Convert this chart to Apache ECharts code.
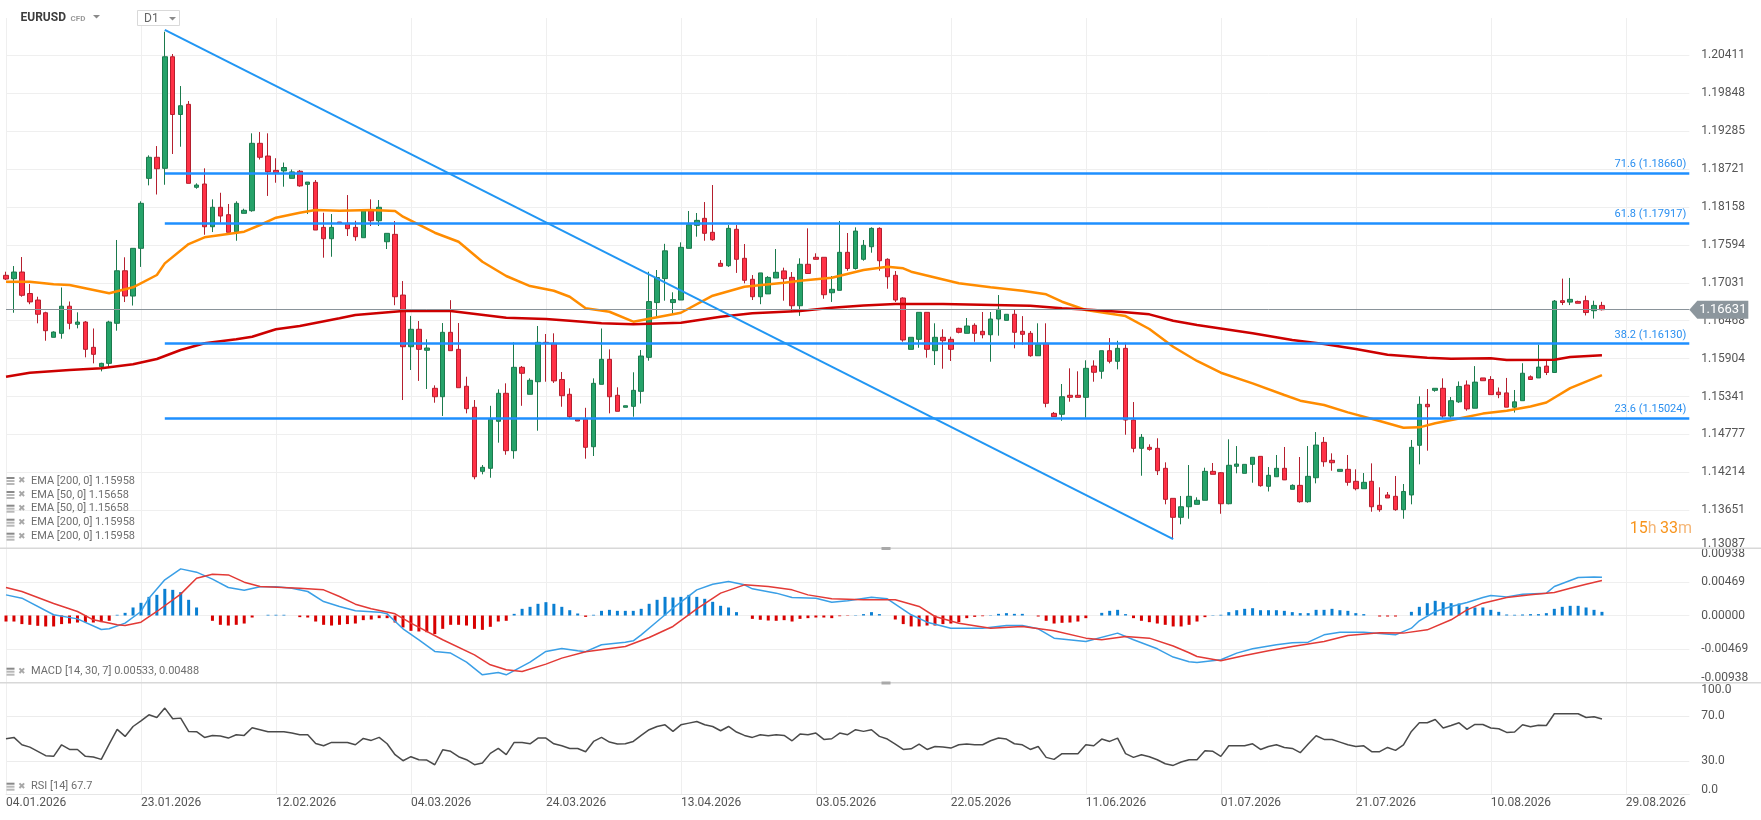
<!DOCTYPE html>
<html><head><meta charset="utf-8">
<script src="https://cdn.jsdelivr.net/npm/echarts@6/dist/echarts.min.js"></script>
<style>html,body{margin:0;padding:0;background:#fff}#c{width:1761px;height:820px}</style>
</head><body><div id="c"></div>
<script>
// ---------- DATA ----------
const dateLabels = ['04.01.2026','23.01.2026','12.02.2026','04.03.2026','24.03.2026','13.04.2026','03.05.2026','22.05.2026','11.06.2026','01.07.2026','21.07.2026','10.08.2026','29.08.2026'];
const priceTickLabels = ['1.13087','1.13651','1.14214','1.14777','1.15341','1.15904','1.16468','1.17031','1.17594','1.18158','1.18721','1.19285','1.19848','1.20411'];
const macdTickLabels = ['-0.00938','-0.00469','0.00000','0.00469','0.00938'];
const rsiTickLabels = {0:'0.0',30:'30.0',70:'70.0',100:'100.0'};

const opens = [
1.17142,1.17092,1.17191,1.16872,1.16775,1.16586,1.16221,1.16280,1.16683,1.16414,
1.16448,1.16072,1.15784,1.15834,1.16429,1.17210,1.16834,1.17543,1.18583,1.18896,
1.18732,1.20390,1.19532,1.19683,1.18450,1.18499,1.17864,1.18153,1.18043,1.17790,
1.18063,1.18102,1.19104,1.18915,1.18702,1.18693,1.18583,1.18689,1.18494,1.18524,
1.17855,1.17686,1.17934,1.17915,1.17855,1.17701,1.18098,1.17953,1.17641,1.17751,
1.16849,1.16081,1.16340,1.16028,1.15463,1.15338,1.16295,1.16042,1.15493,1.15181,
1.14229,1.14274,1.14973,1.15389,1.14536,1.15775,1.15374,1.15561,1.16146,1.16132,
1.15594,1.15374,1.15002,1.15002,1.14595,1.15522,1.15894,1.15359,1.15181,1.15195,
1.15418,1.15923,1.16737,1.17093,1.16737,1.16775,1.17543,1.17885,1.17989,1.17781,
1.17320,1.17285,1.17826,1.17395,1.17083,1.16824,1.16866,1.17102,1.17208,1.17112,
1.16690,1.17306,1.17410,1.17410,1.16883,1.16919,1.17484,1.17243,1.17380,1.17567,
1.17840,1.17380,1.17142,1.16805,1.16042,1.16191,1.16592,1.16022,1.16221,1.16191,
1.16354,1.16280,1.16399,1.16310,1.16259,1.16493,1.16473,1.16563,1.16310,1.16280,
1.15947,1.16132,1.15091,1.15077,1.15359,1.15359,1.15329,1.15794,1.15716,1.16022,
1.15864,1.16057,1.14992,1.14571,1.14586,1.14571,1.14274,1.13828,1.13546,1.13703,
1.13739,1.13799,1.14229,1.14209,1.13748,1.14304,1.14200,1.14333,1.14452,1.14007,
1.14149,1.14274,1.13962,1.14021,1.13778,1.14134,1.14660,1.14393,1.14229,1.14259,
1.14081,1.13971,1.14081,1.13724,1.13878,1.13858,1.13659,1.13878,1.14616,1.15225,
1.15433,1.15463,1.15050,1.15262,1.15512,1.15167,1.15617,1.15594,1.15406,1.15395,
1.15183,1.15279,1.15634,1.15617,1.15793,1.15698,1.16765,1.16744,1.16754,1.16765,
1.16616,1.16695];
const closes = [
1.17087,1.17191,1.16845,1.16747,1.16563,1.16319,1.16299,1.16683,1.16429,1.16448,
1.16042,1.15968,1.15834,1.16448,1.17210,1.16834,1.17543,1.18212,1.18896,1.18726,
1.20390,1.19532,1.19662,1.18509,1.18484,1.17864,1.18153,1.18023,1.17781,1.18212,
1.18108,1.19104,1.18896,1.18679,1.18667,1.18744,1.18679,1.18471,1.18528,1.17815,
1.17686,1.17855,1.17915,1.17835,1.17716,1.18098,1.17953,1.18153,1.17766,1.16824,
1.16081,1.16340,1.16042,1.16062,1.15338,1.16295,1.16022,1.15472,1.15160,1.14149,
1.14289,1.15002,1.15389,1.14536,1.15775,1.15686,1.15582,1.16146,1.16132,1.15573,
1.15353,1.15041,1.14977,1.14586,1.15537,1.15894,1.15338,1.15121,1.15204,1.15433,
1.15943,1.16752,1.17108,1.17506,1.16781,1.17558,1.17894,1.17959,1.17766,1.17671,
1.17276,1.17840,1.17380,1.17068,1.16824,1.17178,1.17111,1.17187,1.17092,1.16690,
1.17306,1.17169,1.17380,1.16854,1.16934,1.17484,1.17243,1.17800,1.17588,1.17840,
1.17359,1.17121,1.16775,1.16181,1.16221,1.16592,1.16042,1.16221,1.16170,1.16042,
1.16295,1.16389,1.16280,1.16259,1.16493,1.16637,1.16563,1.16295,1.16265,1.15947,
1.16112,1.15240,1.15041,1.15338,1.15329,1.15329,1.15760,1.15701,1.16022,1.15864,
1.16057,1.14992,1.14571,1.14735,1.14556,1.14238,1.13813,1.13546,1.13703,1.13858,
1.13799,1.14229,1.14185,1.13748,1.14319,1.14338,1.14333,1.14438,1.14016,1.14170,
1.14274,1.14102,1.14021,1.13778,1.14155,1.14620,1.14372,1.14357,1.14259,1.14066,
1.13971,1.14066,1.13703,1.13659,1.13833,1.13659,1.13930,1.14586,1.15225,1.15189,
1.15463,1.15051,1.15279,1.15491,1.15157,1.15555,1.15576,1.15369,1.15369,1.15183,
1.15262,1.15687,1.15594,1.15778,1.15698,1.16759,1.16738,1.16785,1.16727,1.16589,
1.16695,1.16631];
const lows = [
1.17072,1.16586,1.16824,1.16713,1.16429,1.16170,1.16221,1.16200,1.16340,1.16354,
1.15923,1.15834,1.15715,1.15784,1.16319,1.16745,1.16693,1.17267,1.18479,1.18343,
1.18488,1.18945,1.19053,1.18509,1.18429,1.17745,1.17785,1.17924,1.17781,1.17656,
1.18063,1.18087,1.18863,1.18322,1.18518,1.18459,1.18583,1.18459,1.18053,1.17815,
1.17404,1.17418,1.17915,1.17726,1.17656,1.17701,1.17875,1.17875,1.17533,1.16698,
1.15289,1.15735,1.15573,1.15453,1.15249,1.15051,1.16022,1.15472,1.15091,1.14111,
1.14185,1.14134,1.14655,1.14476,1.14417,1.15203,1.15374,1.14833,1.15561,1.15543,
1.15189,1.15017,1.14977,1.14417,1.14457,1.15522,1.15091,1.15121,1.15181,1.15041,
1.15237,1.15873,1.16524,1.16765,1.16567,1.16775,1.17543,1.17716,1.17656,1.17656,
1.17276,1.17267,1.17178,1.17023,1.16775,1.16713,1.16866,1.17102,1.16765,1.16596,
1.16539,1.17169,1.17380,1.16794,1.16747,1.16919,1.17210,1.17228,1.17359,1.17478,
1.17210,1.16943,1.16746,1.16155,1.16042,1.16066,1.15918,1.15809,1.15754,1.15869,
1.16280,1.16280,1.16155,1.16206,1.15858,1.16245,1.16473,1.16057,1.16112,1.15932,
1.15947,1.15181,1.15041,1.14981,1.15264,1.15329,1.15026,1.15561,1.15605,1.15834,
1.15745,1.14773,1.14512,1.14164,1.14536,1.14174,1.13739,1.13223,1.13442,1.13525,
1.13739,1.13799,1.14185,1.13599,1.13739,1.14200,1.14200,1.14060,1.14001,1.13930,
1.14149,1.14100,1.13962,1.13763,1.13763,1.14051,1.14298,1.14238,1.14229,1.14016,
1.13947,1.13971,1.13629,1.13629,1.13833,1.13644,1.13525,1.13739,1.14333,1.14536,
1.15412,1.15017,1.15013,1.15246,1.15130,1.15167,1.15576,1.15369,1.15316,1.15183,
1.15103,1.15279,1.15594,1.15617,1.15660,1.15698,1.16700,1.16700,1.16727,1.16546,
1.16499,1.16620];
const highs = [
1.17196,1.17280,1.17414,1.17013,1.16824,1.16601,1.16310,1.16961,1.16753,1.16592,
1.16463,1.16352,1.15843,1.16467,1.17667,1.17410,1.17543,1.18242,1.18925,1.19063,
1.20762,1.20431,1.19955,1.19732,1.18509,1.18732,1.18271,1.18369,1.18202,1.18242,
1.18132,1.19252,1.19271,1.19252,1.18882,1.18818,1.18714,1.18707,1.18528,1.18558,
1.18072,1.18053,1.17934,1.18335,1.17953,1.18098,1.18271,1.18261,1.17766,1.17949,
1.17057,1.16539,1.16463,1.16192,1.15507,1.16433,1.16773,1.16433,1.15635,1.15289,
1.14323,1.15203,1.15448,1.15537,1.16146,1.15794,1.15611,1.16389,1.16270,1.16280,
1.15705,1.15463,1.15002,1.15173,1.15611,1.16352,1.16042,1.15478,1.15204,1.15701,
1.16032,1.17196,1.17221,1.17610,1.16890,1.17632,1.18098,1.18068,1.18231,1.18484,
1.17369,1.17889,1.17889,1.17607,1.17146,1.17178,1.17130,1.17533,1.17256,1.17191,
1.17395,1.17840,1.17469,1.17410,1.17132,1.17949,1.17771,1.17855,1.17667,1.17855,
1.17855,1.17395,1.17206,1.16816,1.16221,1.16592,1.16592,1.16429,1.16340,1.16230,
1.16363,1.16508,1.16429,1.16597,1.16597,1.16849,1.16563,1.16641,1.16536,1.16314,
1.16429,1.16429,1.15111,1.15527,1.15760,1.15716,1.15879,1.15879,1.16022,1.16210,
1.16170,1.16141,1.15259,1.14784,1.14631,1.14720,1.14363,1.13828,1.13863,1.14323,
1.13843,1.14283,1.14353,1.14219,1.14705,1.14605,1.14333,1.14438,1.14452,1.14293,
1.14472,1.14591,1.14036,1.14442,1.14605,1.14813,1.14739,1.14497,1.14259,1.14472,
1.14259,1.14204,1.14348,1.13992,1.13922,1.14160,1.14041,1.14695,1.15344,1.15452,
1.15463,1.15611,1.15334,1.15565,1.15580,1.15793,1.15617,1.15644,1.15475,1.15617,
1.15438,1.15836,1.15655,1.16112,1.15873,1.16775,1.17093,1.17103,1.16765,1.16839,
1.16765,1.16748];

// EMA lines, read at sample candles: [candle index, value]
const ema50 = [[0,1.17047],[3,1.17047],[6,1.17008],[8,1.16998],[13,1.16875],[16,1.16964],[19,1.17147],[20,1.17320],[23,1.17607],[25,1.17707],[30,1.17790],[32,1.17890],[34,1.17998],[37,1.18072],[39,1.18112],[42,1.18102],[46,1.18112],[49,1.18098],[50,1.18013],[54,1.17775],[57,1.17641],[60,1.17344],[63,1.17132],[66,1.16983],[69,1.16913],[71,1.16824],[73,1.16652],[76,1.16601],[79,1.16453],[83,1.16542],[85,1.16586],[89,1.16839],[93,1.16973],[98,1.17032],[100,1.17062],[104,1.17107],[108,1.17220],[111,1.17270],[113,1.17246],[114,1.17196],[120,1.17023],[124,1.16964],[128,1.16913],[131,1.16860],[133,1.16750],[136,1.16627],[141,1.16537],[144,1.16344],[147,1.16081],[150,1.15869],[153,1.15695],[157,1.15537],[161,1.15363],[163,1.15279],[166,1.15215],[169,1.15106],[173,1.14977],[176,1.14877],[178,1.14883],[180,1.14943],[183,1.15013],[186,1.15087],[189,1.15130],[192,1.15194],[194,1.15252],[197,1.15465],[201,1.15658]];
const ema200 = [[0,1.15635],[3,1.15695],[8,1.15735],[12,1.15760],[16,1.15820],[19,1.15898],[22,1.16032],[25,1.16132],[29,1.16191],[31,1.16230],[34,1.16340],[37,1.16390],[42,1.16503],[44,1.16552],[50,1.16612],[56,1.16612],[63,1.16512],[68,1.16493],[71,1.16468],[75,1.16429],[79,1.16414],[85,1.16438],[90,1.16527],[94,1.16577],[100,1.16612],[104,1.16660],[108,1.16695],[112,1.16716],[118,1.16716],[129,1.16690],[133,1.16652],[137,1.16627],[141,1.16592],[144,1.16562],[147,1.16468],[150,1.16404],[157,1.16280],[162,1.16181],[166,1.16121],[170,1.16047],[174,1.15962],[179,1.15918],[182,1.15903],[187,1.15910],[189,1.15883],[195,1.15889],[197,1.15927],[201,1.15955]];

// Fibonacci retracement and trendline
const fibLevels = [71.6, 61.8, 38.2, 23.6];
const fibValues = [1.18660, 1.17917, 1.16130, 1.15024];
const fibStartIndex = 20;
const trendStart = [20, 1.20790];
const trendEnd = [147, 1.13223];
const lastPrice = 1.16631;

// MACD [14,30,7]
const macdHist = [
-0.00084,-0.00084,-0.0012,-0.0013,-0.00144,-0.00153,-0.00153,-0.0012,-0.00112,-0.00098,
-0.00093,-0.00098,-0.00093,-0.00074,0.0001,0.00037,0.00112,0.00177,0.0026,0.00288,
0.00372,0.00358,0.00326,0.00219,0.00112,0,-0.00074,-0.0013,-0.0014,-0.0013,
-0.00112,-0.00028,0,0.0001,0.0001,0.0001,0,-0.00023,-0.00028,-0.00084,
-0.0013,-0.0014,-0.0013,-0.0012,-0.00112,-0.00065,-0.00056,-0.00037,-0.00037,-0.00098,
-0.00167,-0.00214,-0.00223,-0.00233,-0.0026,-0.00186,-0.0013,-0.0013,-0.0014,-0.00186,
-0.002,-0.00158,-0.00084,-0.00074,0.00023,0.00093,0.00121,0.00163,0.00186,0.00163,
0.00121,0.00074,0.00028,-0.00019,0.0001,0.00065,0.00079,0.00065,0.00065,0.00065,
0.00093,0.00163,0.00219,0.0026,0.00251,0.0026,0.00288,0.0026,0.00233,0.00191,
0.00135,0.00112,0.00047,0,-0.00047,-0.0006,-0.0007,-0.00074,-0.00065,-0.00084,
-0.00047,-0.00037,-0.00028,-0.00028,-0.00037,-0.0001,-0.00005,0.00005,0.00019,0.00047,
0.00019,0,-0.00056,-0.0012,-0.00153,-0.00153,-0.0014,-0.0014,-0.0012,-0.00112,
-0.00093,-0.00037,-0.00019,-0.0001,0.00005,0.00023,0.00033,0.00023,0.00023,0,
-0.00014,-0.00074,-0.00112,-0.00102,-0.00098,-0.00084,-0.00037,0,0.00037,0.00065,
0.00079,0.00019,-0.00037,-0.00074,-0.00093,-0.00112,-0.0013,-0.00153,-0.00153,-0.0013,
-0.00084,-0.00023,0.00005,0.0001,0.00047,0.00074,0.00093,0.00102,0.00074,0.00074,
0.00074,0.00065,0.00047,0.00033,0.00033,0.00079,0.00079,0.00093,0.00074,0.00065,
0.00033,0.00019,0,-0.00014,-0.00014,-0.00014,0,0.00051,0.00121,0.00172,
0.00205,0.00186,0.00172,0.00167,0.00121,0.00112,0.00112,0.00079,0.00051,0.00014,
0.0001,0.00014,0.00019,0.00019,0.00033,0.00093,0.00121,0.00135,0.00135,0.00112,
0.00079,0.00051];
const macdLine = [[0,0.00288],[2,0.00242],[6,0.0001],[9,-0.00047],[12,-0.00195],[13,-0.00186],[15,-0.00107],[17,0.00056],[18,0.00242],[20,0.00498],[22,0.00651],[24,0.00605],[26,0.00507],[28,0.00391],[30,0.00353],[32,0.004],[34,0.004],[36,0.00381],[38,0.00335],[40,0.00195],[42,0.00126],[44,0.00065],[47,0.00047],[48,0.00023],[50,-0.00186],[52,-0.00339],[54,-0.00502],[56,-0.00525],[58,-0.00651],[60,-0.00828],[62,-0.00795],[63,-0.00828],[66,-0.00651],[68,-0.00502],[70,-0.0046],[72,-0.00493],[73,-0.00505],[75,-0.00409],[78,-0.00372],[79,-0.00353],[80,-0.0027],[82,-0.00084],[84,0.00102],[87,0.00358],[89,0.00437],[91,0.00474],[93,0.00428],[94,0.00372],[97,0.00312],[99,0.00251],[102,0.00242],[104,0.00186],[106,0.00205],[109,0.00256],[111,0.00233],[114,0.0001],[116,-0.00093],[119,-0.00177],[123,-0.00177],[126,-0.0014],[128,-0.0014],[130,-0.00186],[132,-0.00316],[136,-0.00363],[140,-0.00246],[142,-0.00339],[145,-0.00465],[147,-0.0058],[149,-0.00645],[150,-0.00656],[153,-0.00618],[155,-0.00525],[157,-0.00465],[160,-0.00409],[162,-0.00381],[164,-0.00372],[166,-0.0027],[168,-0.00233],[171,-0.00233],[173,-0.00251],[175,-0.0027],[177,-0.00177],[178,-0.00074],[180,0.00056],[182,0.00126],[184,0.00181],[186,0.00251],[187,0.00279],[189,0.0026],[191,0.00298],[194,0.00312],[195,0.00405],[198,0.0053],[200,0.00539],[201,0.00533]];
const signalLine = [[0,0.00391],[2,0.00335],[6,0.00167],[9,0.00056],[11,-0.0006],[14,-0.0013],[15,-0.0014],[17,-0.00093],[19,0.00056],[22,0.00298],[24,0.00521],[26,0.00577],[28,0.00567],[30,0.00465],[32,0.00405],[37,0.00381],[40,0.00358],[42,0.00265],[44,0.00158],[46,0.00093],[49,0.00023],[51,-0.00107],[55,-0.00339],[59,-0.00549],[61,-0.00688],[63,-0.00758],[65,-0.00781],[68,-0.00679],[70,-0.00595],[73,-0.00505],[78,-0.00432],[81,-0.00307],[84,-0.00153],[87,0.00093],[90,0.00312],[93,0.00428],[96,0.00405],[99,0.00358],[101,0.00288],[104,0.00233],[108,0.00219],[112,0.00219],[115,0.00126],[117,-0.00014],[120,-0.00107],[124,-0.00177],[128,-0.00153],[132,-0.00214],[136,-0.00316],[138,-0.00339],[141,-0.00293],[144,-0.00316],[147,-0.00425],[149,-0.0052],[150,-0.00572],[153,-0.00632],[156,-0.00558],[159,-0.00493],[162,-0.00432],[166,-0.00363],[169,-0.00279],[173,-0.00242],[176,-0.00246],[179,-0.002],[182,-0.0006],[184,0.00079],[186,0.00172],[189,0.00251],[192,0.00288],[195,0.00321],[197,0.00381],[199,0.00437],[201,0.00488]];

// RSI [14]
const rsiValues = [
50,51.2,44.6,42.5,38.7,34.8,34.2,44.6,40.4,40.4,
34.2,33.6,31.5,45.2,58.4,52.1,61,66.1,71.5,69.1,
77.5,67.9,68.5,56.6,56.3,51.2,53,52.4,50.6,53.6,
53,59.9,58.1,56.3,56.3,56.3,55.1,53.6,53.6,45.8,
43.7,46.7,46.7,46.7,44.6,50.3,48.5,51.2,45.5,35.7,
30.3,33.9,31.2,30.9,26.7,40.1,38.7,33.9,31.2,26.7,
28.2,36.9,41.3,35.7,46.7,46.7,45.5,50.6,50.6,45.5,
43.7,41.3,41.3,38.4,47.6,51.2,47,45.2,45.5,47.6,
53,58.1,61,62.5,56.6,62.5,64,65.5,62.5,61,
57.2,61,56,53,51.2,53.6,52.7,53.6,53,48.2,
54.2,53.6,55.1,49.4,50,55.1,53.6,58.1,56.6,58.1,
52.1,49.7,45.2,40.4,41,45.2,40.4,43.1,42.5,41.6,
44.6,45.2,44.6,44.6,48.2,50.6,49.7,45.5,44.6,40.4,
43.1,33.3,31.5,36.6,36.6,36.6,44.6,43.7,49.7,47.6,
50.6,36.6,33.3,35.7,33.9,31.2,27.6,26.1,29.1,31.2,
31.2,39.3,38.7,34.2,43.7,43.7,43.7,45.5,40.4,43.1,
44.6,42.2,41.3,37.5,45.2,52.7,49.4,49.4,47,44.6,
43.1,43.7,38.4,38.4,42.2,39.6,44.6,56.6,64.3,64.3,
67.3,59.6,61.9,64.3,58.4,62.8,62.8,59.6,59,55.7,
56,62.5,60.7,62.2,61.9,72.4,72.4,72.4,72.4,69.1,
69.7,67.7];

const legendTexts = ['EMA [200, 0] 1.15958','EMA [50, 0] 1.15658','EMA [50, 0] 1.15658','EMA [200, 0] 1.15958','EMA [200, 0] 1.15958'];
const macdLegend = 'MACD [14, 30, 7] 0.00533, 0.00488';
const rsiLegend = 'RSI [14] 67.7';

// ---------- CHART ----------
const N_CAT = 213;
const categories = Array.from({length: N_CAT}, (_, i) => String(i));
const candleData = opens.map((o, i) => [o, closes[i], lows[i], highs[i]]);
const FONT = 'Roboto, "Noto Sans", sans-serif';
const AXIS_TXT = '#555';
const GRID_LINE = '#efefef';

const priceMin = 1.13087, priceInterval = 0.0056338, priceMax = 1.20966;
const macdMin = -0.00938, macdInterval = 0.00469;

const gridCommon = {left: 6, right: 71.7, outerBoundsMode: 'none', containLabel: false};
const grids = [
  Object.assign({top: 18, height: 530.2}, gridCommon),
  Object.assign({top: 548.3, height: 134.4}, gridCommon),
  Object.assign({top: 683, height: 111.5}, gridCommon)
];

function xAxisFor(gi, showLabels) {
  return {
    type: 'category', gridIndex: gi, data: categories, boundaryGap: false,
    axisLine: {show: gi === 2, lineStyle: {color: '#e6e6e6'}},
    axisTick: {show: false},
    axisLabel: {
      show: showLabels, interval: 16, align: 'left', margin: 2, hideOverlap: false,
      color: AXIS_TXT, fontSize: 12, fontFamily: FONT,
      formatter: (v, idx) => (idx % 17 === 0 ? (dateLabels[idx / 17] || '') : '')
    },
    splitLine: {show: true, interval: 16, lineStyle: {color: GRID_LINE, width: 1}}
  };
}

const yLabelBase = {color: AXIS_TXT, fontSize: 12, fontFamily: FONT, margin: 12};

const option = {
  animation: false,
  backgroundColor: '#fff',
  grid: grids,
  xAxis: [xAxisFor(0, false), xAxisFor(1, false), xAxisFor(2, true)],
  yAxis: [
    {
      type: 'value', gridIndex: 0, position: 'right', min: priceMin, max: priceMax, interval: priceInterval,
      axisLine: {show: false}, axisTick: {show: false},
      splitLine: {show: true, showMaxLine: false, lineStyle: {color: GRID_LINE}},
      axisLabel: Object.assign({}, yLabelBase, {
        formatter: v => {
          const k = Math.round((v - priceMin) / priceInterval);
          if (Math.abs(v - (priceMin + k * priceInterval)) > priceInterval * 0.1) return '';
          const t = priceTickLabels[k];
          if (!t) return '';
          return k === 0 ? '{lo|' + t + '}' : t;
        },
        rich: {lo: {color: AXIS_TXT, fontSize: 12, fontFamily: FONT, padding: [0, 0, 9, 0]}}
      })
    },
    {
      type: 'value', gridIndex: 1, position: 'right', min: macdMin, max: -macdMin, interval: macdInterval,
      axisLine: {show: false}, axisTick: {show: false},
      splitLine: {show: true, lineStyle: {color: GRID_LINE}},
      axisLabel: Object.assign({}, yLabelBase, {
        formatter: v => {
          const k = Math.round((v - macdMin) / macdInterval);
          const t = macdTickLabels[k];
          if (!t) return '';
          if (k === 4) return '{hi|' + t + '}';
          if (k === 0) return '{lo|' + t + '}';
          return t;
        },
        rich: {
          hi: {color: AXIS_TXT, fontSize: 12, fontFamily: FONT, padding: [12, 0, 0, 0]},
          lo: {color: AXIS_TXT, fontSize: 12, fontFamily: FONT, padding: [0, 0, 10, 0]}
        }
      })
    },
    {
      type: 'value', gridIndex: 2, position: 'right', min: 0, max: 100, interval: 10,
      axisLine: {show: false}, axisTick: {show: false},
      splitLine: {show: true, lineStyle: {color: ['#ececec','rgba(0,0,0,0)','rgba(0,0,0,0)','#ececec','rgba(0,0,0,0)','rgba(0,0,0,0)','rgba(0,0,0,0)','#ececec','rgba(0,0,0,0)','rgba(0,0,0,0)','rgba(0,0,0,0)']}},
      axisLabel: Object.assign({}, yLabelBase, {
        formatter: v => {
          const t = rsiTickLabels[Math.round(v)];
          if (!t) return '';
          if (Math.round(v) === 100) return '{hi|' + t + '}';
          if (Math.round(v) === 0) return '{lo|' + t + '}';
          return t;
        },
        rich: {
          hi: {color: AXIS_TXT, fontSize: 12, fontFamily: FONT, padding: [14, 0, 0, 0]},
          lo: {color: AXIS_TXT, fontSize: 12, fontFamily: FONT, padding: [0, 0, 9, 0]}
        }
      })
    }
  ],
  series: [
    {
      type: 'candlestick', name: 'EURUSD', xAxisIndex: 0, yAxisIndex: 0, data: candleData,
      barWidth: 5, clip: false, z: 3,
      itemStyle: {color: '#26a36a', color0: '#ff3146', borderColor: '#1b7a4d', borderColor0: '#b51f2e', borderWidth: 1},
      markLine: {
        silent: true, symbol: ['none', 'none'], animation: false,
        lineStyle: {color: '#8a939a', width: 1, type: 'solid'},
        label: {show: false},
        data: [[{coord: [0, lastPrice]}, {coord: [N_CAT - 1, lastPrice]}]]
      },
      markPoint: {
        silent: true, animation: false,
        symbol: 'path://M0,9L8,0L59,0L59,18L8,18Z', symbolSize: [59, 18], symbolKeepAspect: false,
        symbolOffset: [29.5, 0],
        itemStyle: {color: '#8c969d'},
        label: {show: true, position: 'inside', offset: [4, 0], color: '#fff', fontSize: 13, fontFamily: FONT,
                formatter: () => lastPrice.toFixed(5)},
        data: [{coord: [N_CAT - 1, lastPrice]}]
      }
    },
    {
      type: 'line', name: 'EMA50', xAxisIndex: 0, yAxisIndex: 0, data: ema50, showSymbol: false, symbol: 'none',
      lineStyle: {color: '#ff8c00', width: 2.5}, z: 4, silent: true
    },
    {
      type: 'line', name: 'EMA200', xAxisIndex: 0, yAxisIndex: 0, data: ema200, showSymbol: false, symbol: 'none',
      lineStyle: {color: '#cc0000', width: 2.5}, z: 4, silent: true,
      markLine: {
        silent: true, symbol: ['none', 'none'], animation: false,
        data: fibValues.map((v, i) => [
          {coord: [fibStartIndex, v], lineStyle: {color: '#1e8fff', width: 2.5, type: 'solid'},
           label: {show: true, position: 'insideEndTop', distance: 3, color: '#2a8ff0', fontSize: 11, fontFamily: FONT,
                   formatter: fibLevels[i].toFixed(1) + ' (' + v.toFixed(5) + ')'}},
          {coord: [N_CAT - 1, v]}
        ]).concat([[
          {coord: trendStart, lineStyle: {color: '#2196f3', width: 2, type: 'solid'}, label: {show: false}},
          {coord: trendEnd}
        ]])
      }
    },
    {
      type: 'bar', name: 'Histogram', xAxisIndex: 1, yAxisIndex: 1, data: macdHist, barWidth: 3, silent: true,
      itemStyle: {color: p => (p.value >= 0 ? '#0a7fd2' : '#d80000')}
    },
    {
      type: 'line', name: 'MACD', xAxisIndex: 1, yAxisIndex: 1, data: macdLine, showSymbol: false, symbol: 'none',
      lineStyle: {color: '#3a9fe6', width: 1.5}, silent: true, z: 4
    },
    {
      type: 'line', name: 'Signal', xAxisIndex: 1, yAxisIndex: 1, data: signalLine, showSymbol: false, symbol: 'none',
      lineStyle: {color: '#e23a36', width: 1.5}, silent: true, z: 4
    },
    {
      type: 'line', name: 'RSI', xAxisIndex: 2, yAxisIndex: 2, data: rsiValues, showSymbol: false, symbol: 'none',
      lineStyle: {color: '#4a4a4a', width: 1.5}, silent: true
    }
  ]
};

// ---------- decorations (text / separators) ----------
function legendRow(y, text) {
  return [
    {type: 'rect', shape: {x: 6.5, y: y - 4, width: 8, height: 2}, style: {fill: '#8a8a8a'}},
    {type: 'rect', shape: {x: 6.5, y: y - 1, width: 8, height: 2}, style: {fill: '#b8b8b8'}},
    {type: 'rect', shape: {x: 6.5, y: y + 2, width: 8, height: 2}, style: {fill: '#b8b8b8'}},
    {type: 'text', x: 18, y: y, style: {text: '✖', fill: '#a8a8a8', font: '9px "DejaVu Sans"', textVerticalAlign: 'middle'}},
    {type: 'text', x: 31, y: y, style: {text: text, fill: '#6e6e6e', font: '11px Roboto', textVerticalAlign: 'middle'}}
  ];
}
const legendYs = [481, 495, 508.7, 522.7, 536.7];
let graphics = [
  {type: 'line', shape: {x1: 0, y1: 548.3, x2: 1761, y2: 548.3}, style: {stroke: '#d8d8d8', lineWidth: 1.5}},
  {type: 'line', shape: {x1: 0, y1: 682.8, x2: 1761, y2: 682.8}, style: {stroke: '#d8d8d8', lineWidth: 1.5}},
  {type: 'rect', shape: {x: 881.5, y: 547, width: 9, height: 3}, style: {fill: '#a9a9a9'}},
  {type: 'rect', shape: {x: 881.5, y: 681.5, width: 9, height: 3}, style: {fill: '#a9a9a9'}},
  {type: 'text', x: 20.5, y: 17.5, style: {text: 'EURUSD', fill: '#3d3d3d', font: 'bold 12px Roboto', textVerticalAlign: 'middle'}},
  {type: 'text', x: 70.5, y: 19, style: {text: 'CFD', fill: '#9a9a9a', font: 'bold 8px Roboto', textVerticalAlign: 'middle'}},
  {type: 'polygon', shape: {points: [[93, 15], [100, 15], [96.5, 18.5]]}, style: {fill: '#8a8a8a'}},
  {type: 'rect', shape: {x: 137.5, y: 10.5, width: 42, height: 15}, style: {fill: '#fff', stroke: '#d9d9d9', lineWidth: 1}},
  {type: 'text', x: 144, y: 19, style: {text: 'D1', fill: '#666', font: '12px Roboto', textVerticalAlign: 'middle'}},
  {type: 'polygon', shape: {points: [[169, 17], [176, 17], [172.5, 20.5]]}, style: {fill: '#8a8a8a'}},
  {type: 'text', x: 1692, y: 529, style: {
    text: '{n|15}{u|h} {n|33}{u|m}', textAlign: 'right', textVerticalAlign: 'middle',
    rich: {n: {fill: '#f7941d', font: '16px Roboto'}, u: {fill: '#f5b676', font: '16px Roboto'}}
  }}
];
legendTexts.forEach((t, i) => { graphics = graphics.concat(legendRow(legendYs[i], t)); });
graphics = graphics.concat(legendRow(671.7, macdLegend)).concat(legendRow(786.7, rsiLegend));
option.graphic = {elements: graphics.map(g => Object.assign({z: 100, silent: true}, g))};

const chart = echarts.init(document.getElementById('c'), null, {renderer: 'canvas', width: 1761, height: 820});
chart.setOption(option);
</script>
</body></html>
